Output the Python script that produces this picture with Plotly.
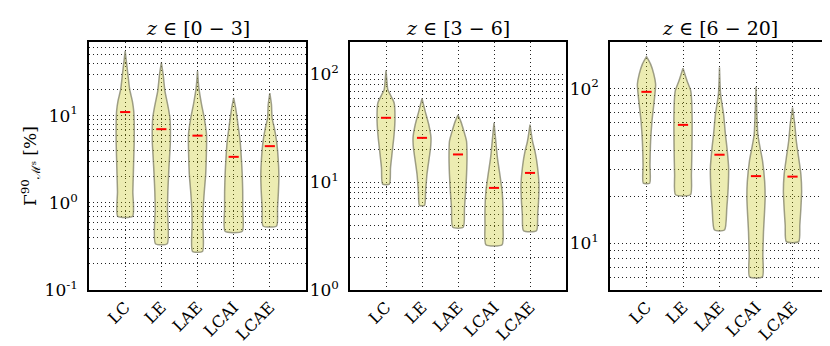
import plotly.graph_objects as go
import math

categories = ["LC", "LE", "LAE", "LCAI", "LCAE"]
positions = [1, 2, 3, 4, 5]
panel_titles = ["<i>z</i> ∈ [0 − 3]", "<i>z</i> ∈ [3 − 6]", "<i>z</i> ∈ [6 − 20]"]

# medians (red bars)
medians_z0_3 = [11.0, 7.0, 5.9, 3.37, 4.47]
medians_z3_6 = [39.6, 25.8, 18.1, 8.86, 12.2]
medians_z6_20 = [95.3, 58.3, 37.4, 27.2, 27.0]

# violin density profiles: levels (top -> bottom, data units) and relative half-widths
levels_z0_3 = [
    [55, 30, 20, 14.6, 11.2, 7.9, 5.1, 3.25, 2.08, 1.34, 0.70],
    [40.5, 29.7, 19.1, 13.4, 9.4, 5.06, 3.25, 2.08, 1.34, 0.86, 0.34],
    [32.4, 20.8, 13.4, 9.4, 6.04, 3.25, 2.08, 1.34, 0.86, 0.553, 0.277],
    [16.0, 12.2, 7.87, 5.06, 3.25, 2.08, 1.34, 0.86, 0.472],
    [18.2, 13.4, 9.4, 7.2, 5.06, 3.25, 2.08, 1.34, 0.86, 0.543],
]
widths_z0_3 = [
    [0, 0.3, 0.5, 0.8, 0.95, 1.0, 1.0, 0.95, 0.9, 0.85, 0.82],
    [0, 0.2, 0.4, 0.7, 0.95, 1.0, 0.9, 0.8, 0.72, 0.68, 0.65],
    [0, 0.15, 0.45, 0.75, 1.0, 0.97, 0.9, 0.75, 0.63, 0.6, 0.55],
    [0, 0.22, 0.48, 0.72, 0.85, 0.95, 1.0, 1.0, 0.95],
    [0, 0.18, 0.25, 0.5, 0.75, 0.92, 1.0, 0.95, 0.85, 0.75],
]
levels_z3_6 = [
    [109, 86.9, 72.6, 63, 54.6, 39.6, 27.7, 19.4, 13.6, 9.6],
    [59.9, 45.7, 34.3, 25.8, 20.8, 16.8, 11.8, 8.24, 6.1],
    [42, 36.9, 29.8, 24, 16.8, 11.8, 8.24, 5.77, 3.82],
    [35.6, 24, 16.8, 11.8, 8.24, 5.77, 4.04, 2.63],
    [34.3, 24, 19.4, 14.6, 9.5, 6.65, 5.0, 3.55],
]
widths_z3_6 = [
    [0, 0.1, 0.2, 0.55, 0.9, 1.0, 0.9, 0.7, 0.5, 0.38],
    [0, 0.35, 0.75, 1.0, 0.95, 0.8, 0.55, 0.4, 0.28],
    [0, 0.3, 0.65, 0.95, 1.0, 0.95, 0.85, 0.72, 0.58],
    [0, 0.2, 0.38, 0.65, 0.9, 1.0, 1.0, 0.9],
    [0, 0.28, 0.55, 0.8, 1.0, 0.95, 0.85, 0.72],
]
levels_z6_20 = [
    [160.7, 143.9, 123.9, 106.6, 91.8, 79, 61.7, 45.7, 32.2, 24.5],
    [135.5, 112, 96.6, 83.2, 61.7, 41.4, 27.8, 20.6],
    [137, 91.8, 68.1, 50.5, 41.4, 30.7, 22.8, 16.9, 12.2],
    [102.6, 68.1, 50.5, 41.4, 34, 25.1, 19.6, 15.3, 11.9, 8.4, 6.08],
    [75.3, 58.6, 45.7, 35.6, 27.8, 21.7, 16.9, 13.1, 10.26],
]
widths_z6_20 = [
    [0, 0.45, 0.8, 1.0, 0.92, 0.8, 0.6, 0.45, 0.38, 0.35],
    [0, 0.45, 0.85, 0.95, 1.0, 0.98, 0.92, 0.82],
    [0, 0.12, 0.45, 0.65, 0.82, 1.0, 0.95, 0.8, 0.55],
    [0, 0.1, 0.2, 0.45, 0.72, 0.95, 1.0, 0.92, 0.82, 0.75, 0.7],
    [0, 0.25, 0.42, 0.68, 0.92, 1.0, 0.92, 0.8, 0.68],
]

# y ranges (data units) per panel
yranges = [(0.1, 70), (1, 200), (5, 200)]

panels = [
    (levels_z0_3, widths_z0_3, medians_z0_3),
    (levels_z3_6, widths_z3_6, medians_z3_6),
    (levels_z6_20, widths_z6_20, medians_z6_20),
]

W, H = 830, 346
xdomains = [(81 / W, 298 / W), (342 / W, 558 / W), (602 / W, 821 / W)]
HALF = 0.25
MED_HALF = 0.14
FILL = "rgba(191,191,0,0.3)"
EDGE = "rgba(120,120,95,0.7)"
SERIF = "DejaVu Serif"
GRIDDASH = "1px,3px"
GRIDCOLOR = "#222"

fig = go.Figure()


def log_ticks(lo, hi):
    major, minor = [], []
    e0 = math.floor(math.log10(lo))
    e1 = math.ceil(math.log10(hi))
    for e in range(e0, e1 + 1):
        for d in range(1, 10):
            v = d * 10 ** e
            if v < lo * 0.999 or v > hi * 1.001:
                continue
            (major if d == 1 else minor).append(v)
    return major, minor


for i, (levels, widths, meds) in enumerate(panels):
    xa = "x" if i == 0 else f"x{i+1}"
    ya = "y" if i == 0 else f"y{i+1}"
    for pos, lv, wd, md in zip(positions, levels, widths, meds):
        right_x = [pos + HALF * w for w in wd]
        left_x = [pos - HALF * w for w in reversed(wd)]
        xs = right_x + left_x + [right_x[0]]
        ys = list(lv) + list(reversed(lv)) + [lv[0]]
        fig.add_trace(go.Scatter(
            x=xs, y=ys, mode="lines", fill="toself", fillcolor=FILL,
            line=dict(color=EDGE, width=1.5, shape="spline", smoothing=0.6),
            xaxis=xa, yaxis=ya, showlegend=False, hoverinfo="skip"))
        fig.add_trace(go.Scatter(
            x=[pos - MED_HALF, pos + MED_HALF], y=[md, md], mode="lines",
            line=dict(color="red", width=2), xaxis=xa, yaxis=ya,
            showlegend=False, hoverinfo="skip"))

layout = dict(
    width=W, height=H,
    margin=dict(l=0, r=0, t=34, b=64),
    paper_bgcolor="white", plot_bgcolor="white",
    font=dict(family=SERIF, color="black", size=17),
    showlegend=False,
)

annotations = []
for i in range(3):
    xk = "xaxis" if i == 0 else f"xaxis{i+1}"
    yk = "yaxis" if i == 0 else f"yaxis{i+1}"
    lo, hi = yranges[i]
    major, minor = log_ticks(lo, hi)
    layout[xk] = dict(
        domain=list(xdomains[i]), anchor="y" if i == 0 else f"y{i+1}",
        range=[0, 6], tickmode="array", tickvals=positions, ticktext=categories,
        tickangle=-45, showgrid=True, gridcolor=GRIDCOLOR, griddash=GRIDDASH, gridwidth=1,
        showline=True, linecolor="black", linewidth=1.5, mirror=True, ticks="",
        zeroline=False, tickfont=dict(size=16, family=SERIF), ticklabelstandoff=0,
    )
    layout[yk] = dict(
        domain=[0, 1], anchor="x" if i == 0 else f"x{i+1}", type="log",
        range=[math.log10(lo), math.log10(hi)], tickmode="array", tickvals=major,
        ticktext=[f"10<sup>{round(math.log10(v))}</sup>" for v in major],
        showgrid=True, gridcolor=GRIDCOLOR, griddash=GRIDDASH, gridwidth=1,
        minor=dict(tickmode="array", tickvals=minor, showgrid=True, gridcolor=GRIDCOLOR,
                   griddash=GRIDDASH, gridwidth=1, ticks=""),
        showline=True, linecolor="black", linewidth=1.5, mirror=True, ticks="",
        zeroline=False, tickfont=dict(size=17, family=SERIF), ticklabelstandoff=6,
    )
    cx = (xdomains[i][0] + xdomains[i][1]) / 2
    annotations.append(dict(
        text=panel_titles[i], x=cx, y=1, xref="paper", yref="paper",
        xanchor="center", yanchor="bottom", yshift=1, showarrow=False,
        font=dict(size=19, family=SERIF)))

annotations.append(dict(
    text="Γ<sup>90</sup><sub>ℳˢ</sub> [%]", x=22 / W, y=0.5, xref="paper", yref="paper",
    xanchor="center", yanchor="middle", textangle=-90, showarrow=False,
    font=dict(size=17, family=SERIF)))
layout["annotations"] = annotations

fig.update_layout(**layout)
fig.write_html("out.html")
